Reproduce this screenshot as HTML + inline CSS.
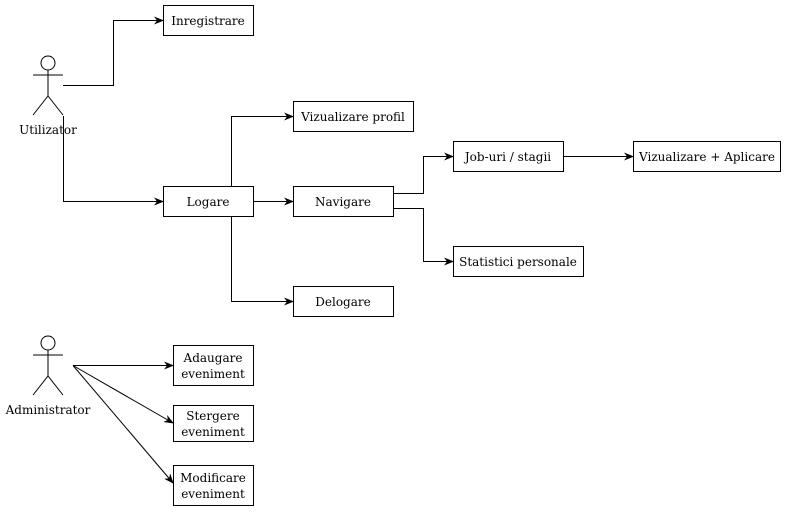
<!DOCTYPE html>
<html><head><meta charset="utf-8"><style>
body{margin:0;background:#fff}
svg text{font-family:"DejaVu Serif","Liberation Serif",serif;font-size:12px;fill:#000}
</style></head><body>
<svg width="789" height="511" viewBox="0 0 789 511" xmlns="http://www.w3.org/2000/svg">
<defs><marker id="a" markerWidth="10" markerHeight="8" refX="9" refY="4" orient="auto" markerUnits="userSpaceOnUse"><path d="M0,0 L10,4 L0,8 L3,4 Z" fill="#000"/></marker></defs>
<g fill="none" stroke="#000" stroke-width="1">
<circle cx="48" cy="63" r="7"/><path d="M33,75H63M48,70V96L33,115M48,96L63,115"/>
<circle cx="48" cy="343" r="7"/><path d="M33,355H63M48,350V376L33,395M48,376L63,395"/>
<rect x="163.5" y="5.5" width="90" height="30"/>
<rect x="163.5" y="186.5" width="90" height="30"/>
<rect x="293.5" y="101.5" width="120" height="30"/>
<rect x="293.5" y="186.5" width="100" height="30"/>
<rect x="293.5" y="286.5" width="100" height="30"/>
<rect x="453.5" y="141.5" width="110" height="30"/>
<rect x="633.5" y="141.5" width="147" height="30"/>
<rect x="453.5" y="246.5" width="130" height="30"/>
<rect x="173.5" y="345.5" width="80" height="40"/>
<rect x="173.5" y="405.5" width="80" height="36"/>
<rect x="173.5" y="465.5" width="80" height="40"/>
<path marker-end="url(#a)" d="M63,85.5H113.5V20.5H163"/>
<path marker-end="url(#a)" d="M63.5,116V201.5H163"/>
<path marker-end="url(#a)" d="M231.5,186V116.5H293"/>
<path marker-end="url(#a)" d="M253,201.5H293"/>
<path marker-end="url(#a)" d="M231.5,216V301.5H293"/>
<path marker-end="url(#a)" d="M393,193.5H423.5V156.5H453"/>
<path marker-end="url(#a)" d="M393,208.5H423.5V261.5H453"/>
<path marker-end="url(#a)" d="M563,156.5H633"/>
<path marker-end="url(#a)" d="M73,365.5H173"/>
<path marker-end="url(#a)" d="M73,365.5L173,423"/>
<path marker-end="url(#a)" d="M73,365.5L173,483"/>
</g>
<g text-anchor="middle">
<text x="48" y="134">Utilizator</text>
<text x="48" y="414">Administrator</text>
<text x="208" y="25">Inregistrare</text>
<text x="208" y="206">Logare</text>
<text x="353" y="121">Vizualizare profil</text>
<text x="343" y="206">Navigare</text>
<text x="343" y="306">Delogare</text>
<text x="508" y="161">Job-uri / stagii</text>
<text x="707" y="161">Vizualizare + Aplicare</text>
<text x="518" y="266">Statistici personale</text>
<text x="213" y="362">Adaugare</text><text x="213" y="378">eveniment</text>
<text x="213" y="420">Stergere</text><text x="213" y="436">eveniment</text>
<text x="213" y="482">Modificare</text><text x="213" y="498">eveniment</text>
</g>
</svg>
</body></html>
